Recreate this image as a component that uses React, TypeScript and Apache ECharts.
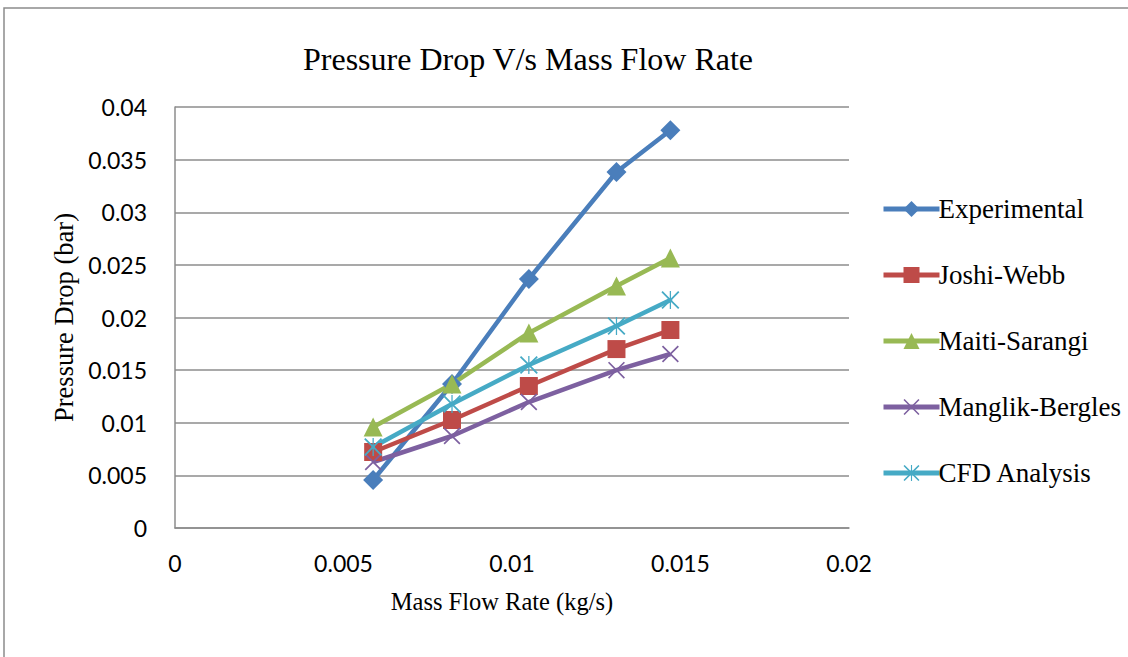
import React, { useEffect, useRef } from "react";
import * as echarts from "echarts";

const massFlow = [0.00588, 0.00822, 0.0105, 0.0131, 0.0147];
const experimental = [0.00456, 0.01368, 0.02366, 0.03382, 0.0378];
const joshiWebb = [0.00722, 0.01026, 0.01349, 0.017, 0.01881];
const maitiSarangi = [0.0096, 0.01368, 0.01853, 0.023, 0.02565];
const manglikBergles = [0.00627, 0.00874, 0.01197, 0.015, 0.01653];
const cfdAnalysis = [0.0077, 0.01178, 0.01549, 0.01919, 0.02166];

const xTicks = ["0", "0.005", "0.01", "0.015", "0.02"];
const yTicks = ["0", "0.005", "0.01", "0.015", "0.02", "0.025", "0.03", "0.035", "0.04"];

const X_SYMBOL =
  "path://M0,1.4 L1.4,0 L10,8.6 L18.6,0 L20,1.4 L11.4,10 L20,18.6 L18.6,20 L10,11.4 L1.4,20 L0,18.6 L8.6,10 Z";
const STAR_SYMBOL =
  "path://M0,1.4 L1.4,0 L9.3,7.9 L9.3,0 L10.7,0 L10.7,7.9 L18.6,0 L20,1.4 L12.1,9.3 L12.1,10.7 L20,18.6 L18.6,20 L10.7,12.1 L10.7,20 L9.3,20 L9.3,12.1 L1.4,20 L0,18.6 L7.9,10.7 L7.9,9.3 Z";

const pair = (ys: number[]) => massFlow.map((x, i) => [x, ys[i]]);

export default function App() {
  const ref = useRef<HTMLDivElement>(null);
  useEffect(() => {
    const chart = echarts.init(ref.current!, null, { renderer: "svg" });
    const mk = (name: string, ys: number[], color: string, symbol: string, size: number) => ({
      name,
      type: "line",
      data: pair(ys),
      symbol,
      symbolSize: size,
      lineStyle: { color, width: 4.5 },
      itemStyle: { color },
    });
    chart.setOption({
      animation: false,
      backgroundColor: "#ffffff",
      title: {
        text: "Pressure Drop V/s Mass Flow Rate",
        left: 523,
        top: 38,
        textAlign: "center",
        textStyle: { fontFamily: "Liberation Serif", fontWeight: "normal", fontSize: 32, color: "#000" },
      },
      graphic: [
        {
          type: "rect",
          shape: { x: 4, y: 8, width: 1140, height: 670 },
          style: { fill: "none", stroke: "#8c8c8c", lineWidth: 1.5 },
          silent: true,
        },
      ],
      grid: { left: 175, top: 107, width: 674, height: 421 },
      legend: {
        orient: "vertical",
        left: 876,
        top: 190,
        itemWidth: 56,
        itemHeight: 20,
        itemGap: 38,
        lineStyle: { width: 5 },
        textStyle: { fontFamily: "Liberation Serif", fontSize: 27, lineHeight: 28, color: "#000", padding: [0, 0, 0, -6] },
        data: ["Experimental", "Joshi-Webb", "Maiti-Sarangi", "Manglik-Bergles", "CFD Analysis"],
      },
      xAxis: {
        type: "value",
        min: 0,
        max: 0.02,
        interval: 0.005,
        name: "Mass Flow Rate (kg/s)",
        nameLocation: "middle",
        nameGap: 61,
        nameTextStyle: {
          fontFamily: "Liberation Serif",
          fontSize: 24.5,
          color: "#000",
          verticalAlign: "top",
          padding: [0, 20, 0, 0],
        },
        axisLine: { lineStyle: { color: "#8c8c8c", width: 1.5 } },
        axisTick: { show: false },
        splitLine: { show: false },
        axisLabel: {
          margin: 23,
          fontFamily: "Lato",
          fontSize: 23,
          color: "#000",
          formatter: (v: number) => xTicks[Math.round(v / 0.005)] ?? "",
        },
      },
      yAxis: {
        type: "value",
        min: 0,
        max: 0.04,
        interval: 0.005,
        name: "Pressure Drop (bar)",
        nameLocation: "middle",
        nameGap: 88,
        nameRotate: 90,
        nameTextStyle: { fontFamily: "Liberation Serif", fontSize: 26.5, color: "#000" },
        axisLine: { show: true, lineStyle: { color: "#8c8c8c", width: 1.5 } },
        axisTick: { show: false },
        splitLine: { lineStyle: { color: "#8c8c8c", width: 1.5 } },
        axisLabel: {
          margin: 28,
          fontFamily: "Lato",
          fontSize: 23,
          color: "#000",
          formatter: (v: number) => yTicks[Math.round(v / 0.005)] ?? "",
        },
      },
      series: [
        mk("Experimental", experimental, "#4a7ebb", "diamond", 20),
        mk("Joshi-Webb", joshiWebb, "#be4b48", "rect", 18),
        mk("Maiti-Sarangi", maitiSarangi, "#98b954", "triangle", 19),
        mk("Manglik-Bergles", manglikBergles, "#7d60a0", X_SYMBOL, 17),
        mk("CFD Analysis", cfdAnalysis, "#46aac5", STAR_SYMBOL, 18),
      ],
    });
    return () => chart.dispose();
  }, []);
  return <div ref={ref} style={{ position: "fixed", left: 0, top: 0, width: 1128, height: 657 }} />;
}
